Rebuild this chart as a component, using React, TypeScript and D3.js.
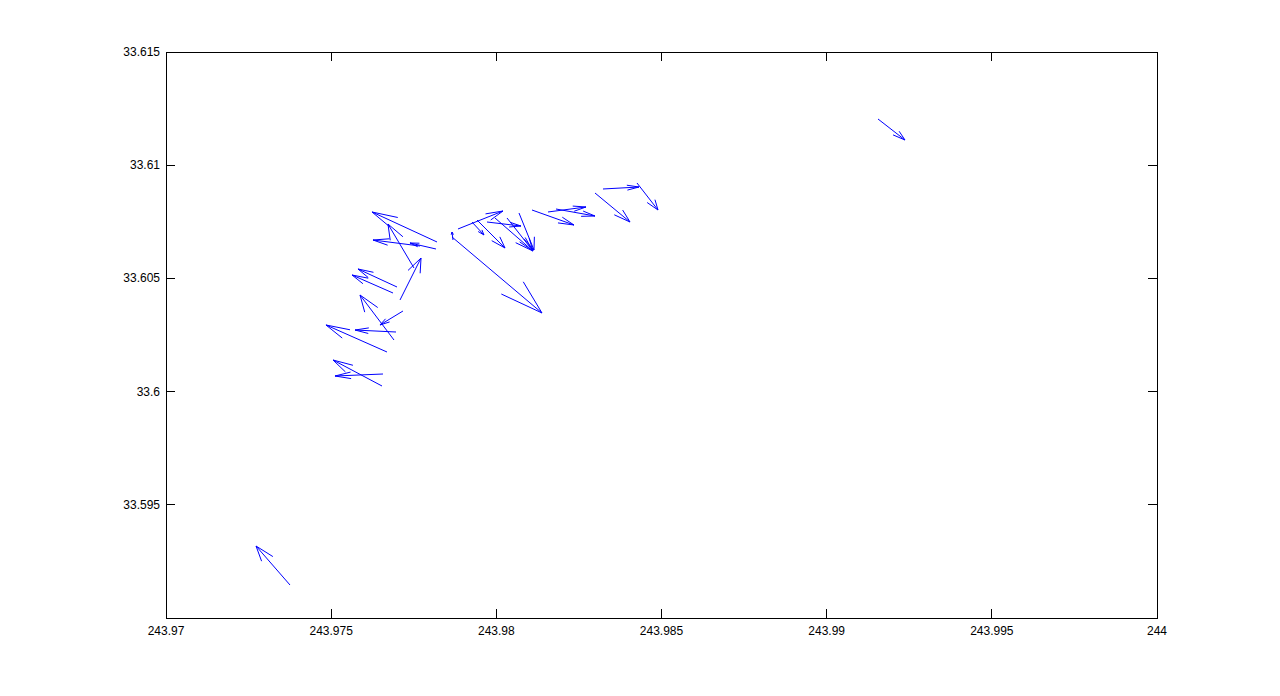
import React from "react";
import * as d3 from "d3";

const xTicks = [243.97, 243.975, 243.98, 243.985, 243.99, 243.995, 244];
const yTicks = [33.595, 33.6, 33.605, 33.61, 33.615];
const xTickLabels = ["243.97", "243.975", "243.98", "243.985", "243.99", "243.995", "244"];
const yTickLabels = ["33.595", "33.6", "33.605", "33.61", "33.615"];

const xs = [243.973754, 243.991554, 243.978658, 243.978204, 243.977507, 243.977689, 243.978173, 243.977084, 243.976993, 243.976872, 243.976902, 243.977174, 243.976963, 243.97669, 243.976539, 243.976569, 243.978688, 243.978839, 243.979263, 243.979415, 243.979717, 243.979959, 243.980323, 243.980686, 243.98108, 243.981564, 243.981806, 243.983229, 243.984258, 243.982987];
const ys = [33.591457, 33.612041, 33.606829, 33.606608, 33.605459, 33.606431, 33.606299, 33.604046, 33.60462, 33.604355, 33.602279, 33.60356, 33.602632, 33.601749, 33.600247, 33.600777, 33.606696, 33.607182, 33.607491, 33.607579, 33.607491, 33.607668, 33.607668, 33.607889, 33.608021, 33.607933, 33.608065, 33.608949, 33.609214, 33.608772];
const us = [-0.001029, 0.000817, 0.002724, -0.001968, -0.000787, -0.001423, -0.000787, 0.000636, -0.001181, -0.001241, -0.001029, -0.000696, -0.001241, -0.001847, -0.001483, -0.001453, -0.00003, 0.001362, 0.000363, 0.000848, 0.001029, 0.00115, 0.000787, 0.000454, 0.001271, 0.00115, 0.001181, 0.00109, 0.000636, 0.00106];
const vs = [0.001723, -0.000928, -0.003357, 0.001325, 0.001943, 0.000265, 0.000265, 0.001855, 0.000795, 0.000795, 0.001988, -0.000618, 0.000088, 0.001193, 0.001148, -0.000088, 0.000353, 0.000795, -0.000574, -0.001237, -0.000177, -0.001458, -0.001458, -0.001634, -0.000663, 0.000221, -0.000309, 0.000088, -0.001193, -0.001281];

const W = 1280, H = 696;
const L = 166, R = 1157, T = 52, B = 618;

export default function App() {
  const x = d3.scaleLinear().domain([243.97, 244]).range([L, R]);
  const y = d3.scaleLinear().domain([33.59, 33.615]).range([B, T]);
  const alpha = 0.33, beta = 0.3;
  const paths: string[] = [];
  for (let i = 0; i < xs.length; i++) {
    const x0 = xs[i], y0 = ys[i], u = us[i], v = vs[i];
    const p = d3.path();
    p.moveTo(x(x0), y(y0));
    p.lineTo(x(x0 + u), y(y0 + v));
    const hx1 = x0 + u - alpha * (u + beta * v), hy1 = y0 + v - alpha * (v - beta * u);
    const hx2 = x0 + u - alpha * (u - beta * v), hy2 = y0 + v - alpha * (v + beta * u);
    p.moveTo(x(hx1), y(hy1));
    p.lineTo(x(x0 + u), y(y0 + v));
    p.lineTo(x(hx2), y(hy2));
    paths.push(p.toString());
  }
  const tl = 9;
  return (
    <svg width={W} height={H} style={{ position: "absolute", left: 0, top: 0, background: "#fff" }}
      fontFamily="'Liberation Sans', Arial, sans-serif" fontSize={12}>
      <rect x={0} y={0} width={W} height={H} fill="#fff" />
      <rect x={L} y={T} width={R - L} height={B - T} fill="#fff" stroke="#000" strokeWidth={1} shapeRendering="crispEdges" />
      {xTicks.map((t, i) => (
        <g key={"x" + i}>
          <line x1={x(t)} x2={x(t)} y1={B} y2={B - tl} stroke="#000" shapeRendering="crispEdges" />
          <line x1={x(t)} x2={x(t)} y1={T} y2={T + tl} stroke="#000" shapeRendering="crispEdges" />
          <text x={x(t)} y={B + 17} textAnchor="middle" fill="#000">{xTickLabels[i]}</text>
        </g>
      ))}
      {yTicks.map((t, i) => (
        <g key={"y" + i}>
          <line x1={L} x2={L + tl} y1={y(t)} y2={y(t)} stroke="#000" shapeRendering="crispEdges" />
          <line x1={R} x2={R - tl} y1={y(t)} y2={y(t)} stroke="#000" shapeRendering="crispEdges" />
          <text x={L - 6} y={y(t) + 4} textAnchor="end" fill="#000">{yTickLabels[i]}</text>
        </g>
      ))}
      {paths.map((d, i) => (
        <path key={i} d={d} fill="none" stroke="#0000ff" strokeWidth={1} />
      ))}
    </svg>
  );
}
